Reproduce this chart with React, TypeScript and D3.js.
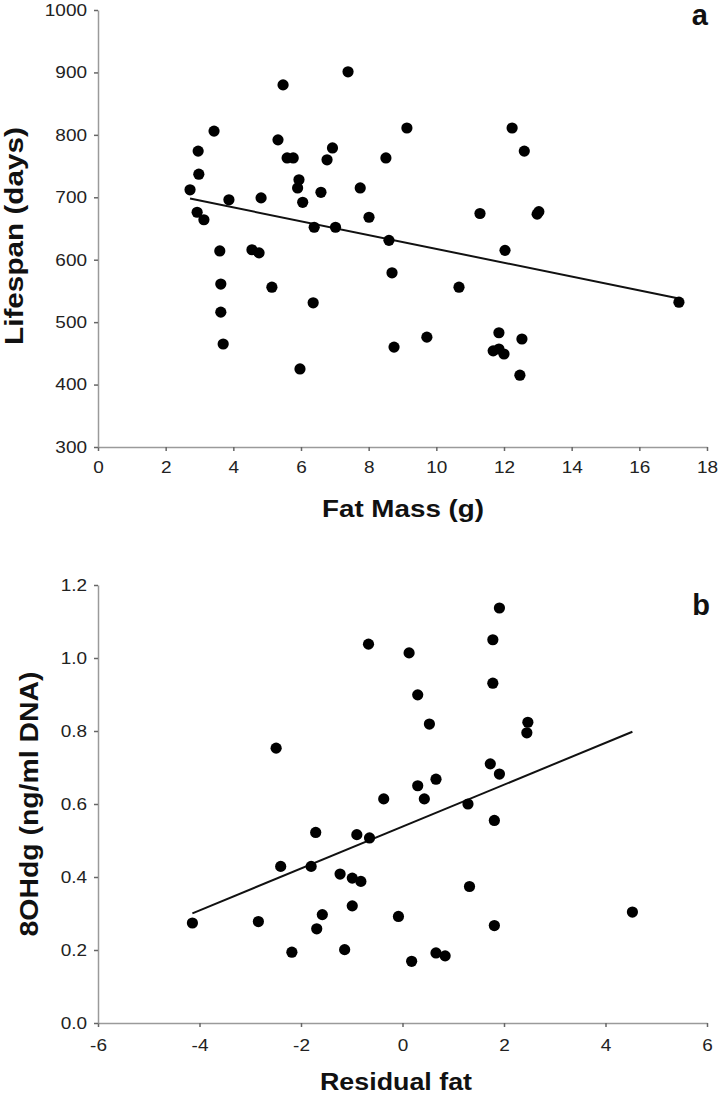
import React, { useEffect, useRef } from 'react'
import * as d3 from 'd3'

// panel a: fat mass (g) vs lifespan (days)
const fatMass = [
  2.72, 2.96, 2.98, 2.93, 3.13, 3.43, 3.87, 4.82, 3.6, 4.55, 4.76, 3.63, 3.63,
  3.7, 5.14, 6.36, 5.97, 5.47, 5.32, 5.59, 5.77, 5.94, 5.9, 6.05, 6.59, 6.77,
  6.93, 6.39, 7.02, 7.39, 7.75, 8.01, 8.51, 9.13, 8.6, 11.29, 12.24, 12.6,
  12.98, 13.03, 12.03, 8.69, 10.67, 17.17, 9.72, 8.75, 11.85, 12.53, 11.68,
  11.85, 12.0, 12.47,
]
const lifespan = [
  712, 774, 737, 676, 664, 806, 696, 699, 614, 616, 611, 561, 516, 465, 556,
  531, 425, 880, 792, 763, 763, 728, 715, 692, 708, 760, 779, 652, 652, 901,
  715, 668, 763, 811, 631, 674, 811, 774, 673, 677, 615, 579, 556, 532, 476,
  460, 483, 473, 454, 457, 449, 415,
]
const fitA = { slope: -11.07, intercept: 728 }

// panel b: residual fat vs 8OHdg
const residualFat = [
  -2.49, -0.67, 0.13, 1.91, 1.78, 1.78, 0.3, 0.53, 2.47, 2.45, 1.73, 1.91, 0.66,
  0.3, -0.37, 0.43, 1.29, 1.81, -0.9, -0.65, -1.23, -0.99, -0.82, -0.99, 1.32,
  -0.08, 1.81, 4.53, -1.14, 0.18, 0.66, 0.84, -4.14, -2.84, -2.4, -1.71, -1.8,
  -1.58, -1.69, -2.18,
]
const ohdg = [
  0.753, 1.038, 1.014, 1.137, 1.05, 0.931, 0.899, 0.819, 0.824, 0.795, 0.71,
  0.682, 0.668, 0.65, 0.614, 0.614, 0.6, 0.555, 0.516, 0.507, 0.408, 0.397,
  0.388, 0.321, 0.374, 0.292, 0.267, 0.304, 0.201, 0.169, 0.192, 0.184, 0.274,
  0.278, 0.429, 0.522, 0.429, 0.297, 0.258, 0.194,
]
const fitB = { slope: 0.0574, intercept: 0.538 }

const ticksAX = [0, 2, 4, 6, 8, 10, 12, 14, 16, 18]
const ticksAY = [300, 400, 500, 600, 700, 800, 900, 1000]
const ticksBX = [-6, -4, -2, 0, 2, 4, 6]
const ticksBY = [0, 0.2, 0.4, 0.6, 0.8, 1.0, 1.2]

const FONT = '"Liberation Sans", Arial, sans-serif'
const SX = 1.15 // the original figure is stretched sideways

// plain hyphen for negatives, like the original
const intFmt = (d) => String(d)
const oneDec = (d) => d.toFixed(1)

const App = () => {
  const svgRef = useRef(null)

  useEffect(() => {
    const svg = d3.select(svgRef.current)
    svg.selectAll('*').remove()

    const panels = [
      {
        xs: fatMass, ys: lifespan, fit: fitA,
        xDomain: [0, 18], yDomain: [300, 1000],
        xTicks: ticksAX, yTicks: ticksAY,
        xFmt: intFmt, yFmt: intFmt,
        top: 10, bottom: 447,
        xLabel: 'Fat Mass (g)', xLabelX: 403, xLabelY: 517, xLabelLen: 162,
        yLabel: 'Lifespan (days)', yLabelX: 23, yLabelY: 236, yLabelLen: 218,
        letter: 'a', letterX: 708, letterY: 25, xPad: 10,
      },
      {
        xs: residualFat, ys: ohdg, fit: fitB,
        xDomain: [-6, 6], yDomain: [0, 1.2],
        xTicks: ticksBX, yTicks: ticksBY,
        xFmt: intFmt, yFmt: oneDec,
        top: 585, bottom: 1023,
        xLabel: 'Residual fat', xLabelX: 396, xLabelY: 1090, xLabelLen: 152,
        yLabel: '8OHdg (ng/ml DNA)', yLabelX: 37.5, yLabelY: 804, yLabelLen: 265,
        letter: 'b', letterX: 710, letterY: 615, xPad: 12,
      },
    ]

    const left = 98
    const right = 707

    panels.forEach((p) => {
      const x = d3.scaleLinear().domain(p.xDomain).range([left, right])
      const y = d3.scaleLinear().domain(p.yDomain).range([p.bottom, p.top])
      const g = svg.append('g')

      // axes
      const xAxis = d3.axisBottom(x).tickValues(p.xTicks).tickFormat(p.xFmt)
        .tickSize(4).tickSizeOuter(0).tickPadding(p.xPad)
      const yAxis = d3.axisLeft(y).tickValues(p.yTicks).tickFormat(p.yFmt)
        .tickSize(4).tickSizeOuter(0).tickPadding(7)

      const gx = g.append('g').attr('transform', `translate(0,${p.bottom})`).call(xAxis)
      const gy = g.append('g').attr('transform', `translate(${left},0)`).call(yAxis)

      ;[gx, gy].forEach((ax) => {
        ax.select('.domain').attr('stroke', '#9a9a9a').attr('stroke-width', 1.5)
        ax.selectAll('.tick line').attr('stroke', '#666').attr('stroke-width', 1.5)
        ax.selectAll('.tick text')
          .attr('fill', '#222')
          .attr('font-family', FONT)
          .attr('font-size', 16.5)
      })
      gy.selectAll('.tick text').attr('x', -11 / SX).attr('transform', `scale(${SX},1)`)
      gx.selectAll('.tick text').attr('transform', `scale(${SX},1)`)

      // regression line over the range of the data
      const [x0, x1] = d3.extent(p.xs)
      g.append('path')
        .datum([x0, x1])
        .attr('fill', 'none')
        .attr('stroke', '#111')
        .attr('stroke-width', 2)
        .attr('d', d3.line()
          .x((d) => x(d))
          .y((d) => y(p.fit.intercept + p.fit.slope * d)))

      // points
      g.selectAll('circle')
        .data(p.xs.map((v, i) => [v, p.ys[i]]))
        .join('circle')
        .attr('cx', (d) => x(d[0]))
        .attr('cy', (d) => y(d[1]))
        .attr('r', 5.6)
        .attr('fill', '#000')

      // labels
      g.append('text')
        .attr('x', p.xLabelX).attr('y', p.xLabelY)
        .attr('text-anchor', 'middle')
        .attr('font-family', FONT).attr('font-weight', 'bold').attr('font-size', 23)
        .attr('textLength', p.xLabelLen).attr('lengthAdjust', 'spacingAndGlyphs')
        .attr('fill', '#111')
        .text(p.xLabel)

      g.append('text')
        .attr('transform', `translate(${p.yLabelX},${p.yLabelY}) rotate(-90)`)
        .attr('text-anchor', 'middle')
        .attr('font-family', FONT).attr('font-weight', 'bold').attr('font-size', 26)
        .attr('textLength', p.yLabelLen).attr('lengthAdjust', 'spacingAndGlyphs')
        .attr('fill', '#111')
        .text(p.yLabel)

      g.append('text')
        .attr('x', p.letterX).attr('y', p.letterY)
        .attr('text-anchor', 'end')
        .attr('font-family', FONT).attr('font-weight', 'bold').attr('font-size', 29)
        .attr('fill', '#111')
        .text(p.letter)
    })
  }, [])

  return (
    <svg
      ref={svgRef}
      width={718}
      height={1094}
      style={{ position: 'absolute', left: 0, top: 0, background: '#fff' }}
    />
  )
}

export default App
